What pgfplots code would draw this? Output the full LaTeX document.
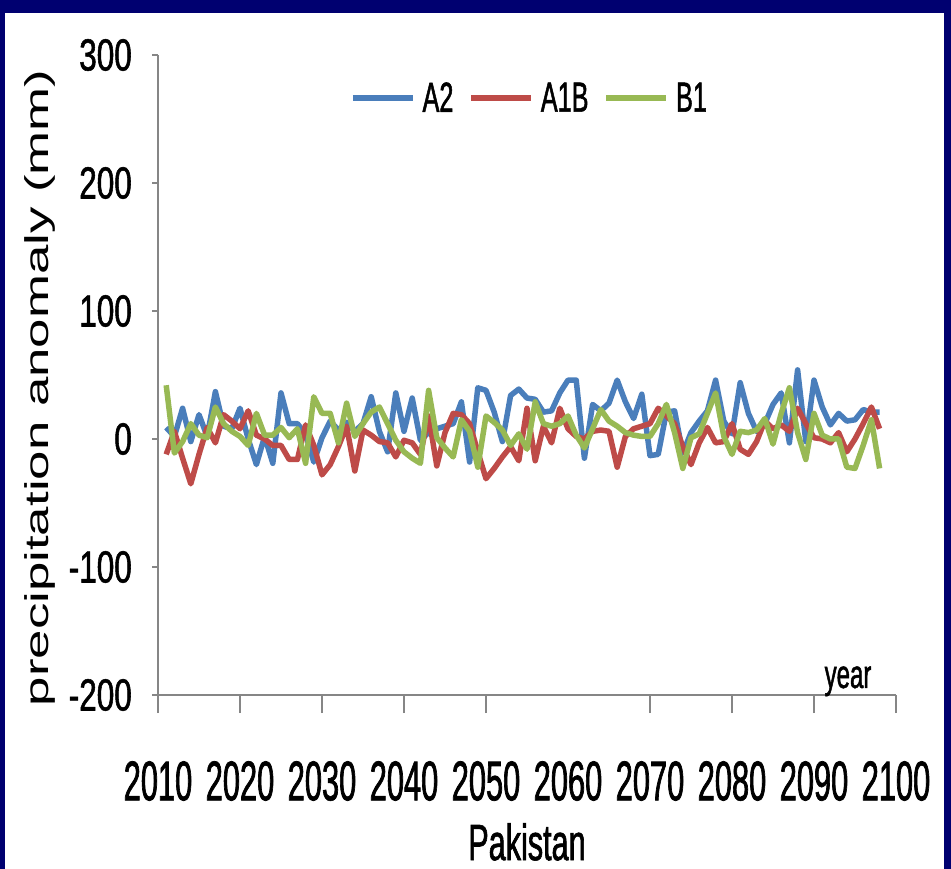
\documentclass[border=0pt]{standalone}
\usepackage{pgfplots}
\usepackage{pgfplotstable}
\pgfplotsset{compat=1.18}
\usepackage{fontspec}
\setmainfont{Liberation Sans}
\newfontfamily\fty[FakeStretch=0.7,FakeBold=1.2]{Liberation Sans}
\newfontfamily\ftx[FakeStretch=0.55,FakeBold=1.2]{Liberation Sans}
\newfontfamily\flg[FakeStretch=0.6,FakeBold=1.2]{Liberation Sans}
\newfontfamily\fyl[FakeStretch=1.6]{Liberation Sans}
\definecolor{navy}{HTML}{000070}
\definecolor{ca2}{HTML}{4A7EBB}
\definecolor{ca1b}{HTML}{BE4B48}
\definecolor{cb1}{HTML}{98B954}
\definecolor{axgray}{HTML}{868686}

\pgfplotstableread{
year A2 A1B B1
2011 9 -12 42
2012 2 6 -11
2013 24 -15 -2
2014 -2 -35 12
2015 19 -12 3
2016 2 9 1
2017 37 -3 25
2018 10 19 12
2019 8 14 6
2020 24 8 2
2021 0 22 -5
2022 -20 3 20
2023 2 0 3
2024 -19 -5 3
2025 36 -5 9
2026 12 -16 1
2027 12 -16 8
2028 4 11 -19
2029 -18 -5 33
2030 1 -28 20
2031 14 -20 20
2032 7 -6 -3
2033 13 10 28
2034 6 -25 2
2035 12 7 12
2036 33 3 21
2037 6 -2 25
2038 -10 -3 12
2039 36 -14 -1
2040 6 -1 -10
2041 32 -3 -15
2042 -1 -12 -19
2043 5 18 38
2044 8 -21 1
2045 10 5 -7
2046 12 20 -14
2047 29 19 15
2048 -18 12 6
2049 40 -10 -22
2050 38 -31 18
2051 21 -23 13
2052 -2 -14 7
2053 34 -6 -5
2054 39 -17 4
2055 32 24 -8
2056 31 -17 29
2057 21 10 12
2058 22 -3 10
2059 36 24 12
2060 46 8 18
2061 46 2 3
2062 -15 0 -7
2063 27 6 8
2064 22 7 23
2065 28 6 14
2066 46 -22 10
2067 29 2 5
2068 16 8 3
2069 35 10 2
2070 -13 12 2
2071 -12 24 12
2072 21 18 27
2073 22 12 5
2074 -11 -6 -23
2075 5 -20 1
2076 14 -3 4
2077 22 9 20
2078 46 -3 36
2079 14 -2 2
2080 4 12 -12
2081 44 -8 6
2082 20 -12 5
2083 6 -2 7
2084 12 14 16
2085 27 8 -4
2086 36 11 20
2087 -3 6 40
2088 54 24 5
2089 -2 12 -16
2090 46 1 20
2091 25 0 3
2092 11 -3 0
2093 20 5 0
2094 14 -10 -22
2095 15 0 -23
2096 23 12 -5
2097 21 25 15
2098 21 8 -23
}\datatable

\begin{document}
\begin{tikzpicture}
\useasboundingbox (0bp,0bp) rectangle (951bp,869bp);
\fill[navy] (0bp,0bp) rectangle (951bp,869bp);
\fill[white] (5bp,0bp) rectangle (944bp,856bp);
\begin{axis}[
  at={(158bp,174bp)}, anchor=south west,
  scale only axis, width=738bp, height=640bp,
  xmin=2010, xmax=2100, ymin=-200, ymax=300,
  axis x line*=bottom, axis y line*=left,
  axis line style={draw=axgray, line width=2bp},
  tick align=outside, major tick length=6bp,
  tick style={draw=axgray, line width=1.5bp},
  ytick={-200,-100,0,100,200,300},
  yticklabels={-200,-100,0,100,200,300},
  yticklabel style={font=\fty\fontsize{45bp}{45bp}\selectfont, inner sep=0pt, xshift=-20bp},
  xtick={2010,2020,2030,2040,2050,2060,2070,2080,2090,2100},
  xticklabels={2010,2020,2030,2040,2050,2060,2070,2080,2090,2100},
  xtick style={draw=none},
  xticklabel style={font=\ftx\fontsize{56bp}{56bp}\selectfont, inner sep=0pt, anchor=north, yshift=-60bp},
  extra x ticks={2010,2020,2030,2040,2050,2070,2080,2090,2100},
  extra x tick labels={},
  extra x tick style={major tick length=18bp, xtick style={draw=axgray, line width=1.5bp}},
  xlabel={Pakistan},
  xlabel style={font=\flg\fontsize{51bp}{51bp}\selectfont, at={(rel axis cs:0.5,-0.258)}, anchor=base, inner sep=0pt},
  ylabel={precipitation anomaly (mm)},
  ylabel style={font=\fyl\fontsize{33bp}{33bp}\selectfont, at={(rel axis cs:-0.16,0.48)}, rotate=0, anchor=center, inner sep=0pt},
  legend columns=3,
  legend style={at={(rel axis cs:0.26,0.933)}, anchor=west, draw=none, fill=none, inner sep=0pt,
    font=\flg\fontsize{42bp}{42bp}\selectfont,
    nodes={inner sep=0pt},
    /tikz/every odd column/.style={column sep=7bp},
    /tikz/every even column/.style={column sep=15bp}},
  legend cell align=left,
  legend image code/.code={\draw[#1, line width=5.5bp] (0bp,0bp) -- (60bp,0bp);},
  clip=false,
]
\addplot[ca2, line width=5.5bp, line join=round] table[x=year, y=A2] {\datatable};
\addplot[ca1b, line width=5.5bp, line join=round] table[x=year, y=A1B] {\datatable};
\addplot[cb1, line width=5.5bp, line join=round] table[x=year, y=B1] {\datatable};
\legend{A2,A1B,B1}
\node[font=\flg\fontsize{40bp}{40bp}\selectfont, anchor=base, inner sep=0pt] at (rel axis cs:0.935,0.011) {year};
\end{axis}
\end{tikzpicture}
\end{document}
